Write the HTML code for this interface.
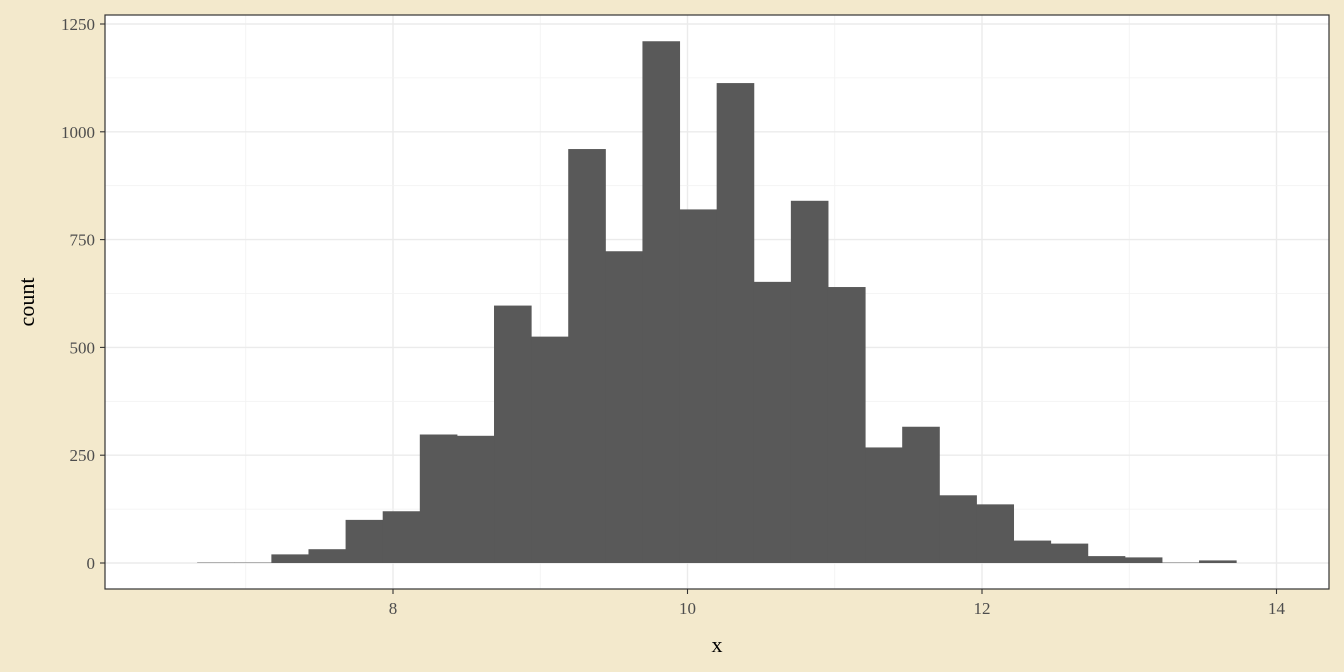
<!DOCTYPE html>
<html><head><meta charset="utf-8"><style>
html,body{margin:0;padding:0;background:#F3E9CC;}
svg{display:block;font-family:"Liberation Serif",serif;}
</style></head><body>
<svg id="chart" width="1344" height="672">
<rect x="0" y="0" width="1344" height="672" fill="#F3E9CC"/>
<rect x="105" y="15" width="1224" height="574" fill="#fff"/>
<g id="grid"></g><g id="bars"></g>
<rect x="105" y="15" width="1224" height="574" fill="none" stroke="#333" stroke-width="1.2"/>
<g id="axes"></g>
<text x="717" y="652" text-anchor="middle" font-size="22" fill="#000">x</text>
<text transform="translate(34,302) rotate(-90)" text-anchor="middle" font-size="22" fill="#000">count</text>
</svg>
<script>
const binStart = 6.67;
const binWidth = 0.252;
const counts = [1,1,20,32,100,120,298,295,597,525,960,723,1210,820,1113,652,840,640,268,316,157,136,52,45,16,13,1,6];
const xTicks = [8,10,12,14];
const yTicks = [0,250,500,750,1000,1250];
const xTickLabels = ["8","10","12","14"];
const yTickLabels = ["0","250","500","750","1000","1250"];
const ns="http://www.w3.org/2000/svg";
function X(v){return 393+(v-8)*147.25;}
function Y(v){return 563-v*0.4312;}
function mk(t,a,p){const e=document.createElementNS(ns,t);for(const k in a)e.setAttribute(k,a[k]);p.appendChild(e);return e;}
const grid=document.getElementById('grid'),bars=document.getElementById('bars'),axes=document.getElementById('axes');
for(let i=0;i<xTicks.length;i++){
  const v=xTicks[i];
  const g=mk('line',{x1:X(v),x2:X(v),y1:15,y2:589,stroke:'#EBEBEB','stroke-width':1.4},grid);
  
  
  const m=mk('line',{x1:X(v-1),x2:X(v-1),y1:15,y2:589,stroke:'#F2F2F2','stroke-width':0.8},grid);
  
  
  const t=mk('line',{x1:X(v),x2:X(v),y1:589,y2:594,stroke:'#333','stroke-width':1.1},axes);
  
  
  const l=mk('text',{x:X(v),y:614,'text-anchor':'middle','font-size':17,fill:'#4D4D4D'},axes);
  l.textContent=xTickLabels[i];
  
  
}
for(let i=0;i<yTicks.length;i++){
  const v=yTicks[i];
  const g=mk('line',{x1:105,x2:1329,y1:Y(v),y2:Y(v),stroke:'#EBEBEB','stroke-width':1.4},grid);
  
  
  if(i<yTicks.length-1){
    const m=mk('line',{x1:105,x2:1329,y1:Y(v+125),y2:Y(v+125),stroke:'#F2F2F2','stroke-width':0.8},grid);
    
    
  }
  const t=mk('line',{x1:100,x2:105,y1:Y(v),y2:Y(v),stroke:'#333','stroke-width':1.1},axes);
  
  
  const l=mk('text',{x:95,y:Y(v)+6,'text-anchor':'end','font-size':17,fill:'#4D4D4D'},axes);
  l.textContent=yTickLabels[i];
  
  
}
for(let i=0;i<counts.length;i++){
  const x0=X(binStart+i*binWidth),x1=X(binStart+(i+1)*binWidth);
  const b=mk('rect',{x:x0,y:Y(counts[i]),width:x1-x0+0.5,height:Y(0)-Y(counts[i]),fill:'#595959'},bars);
  
  
}
</script>
</body></html>
